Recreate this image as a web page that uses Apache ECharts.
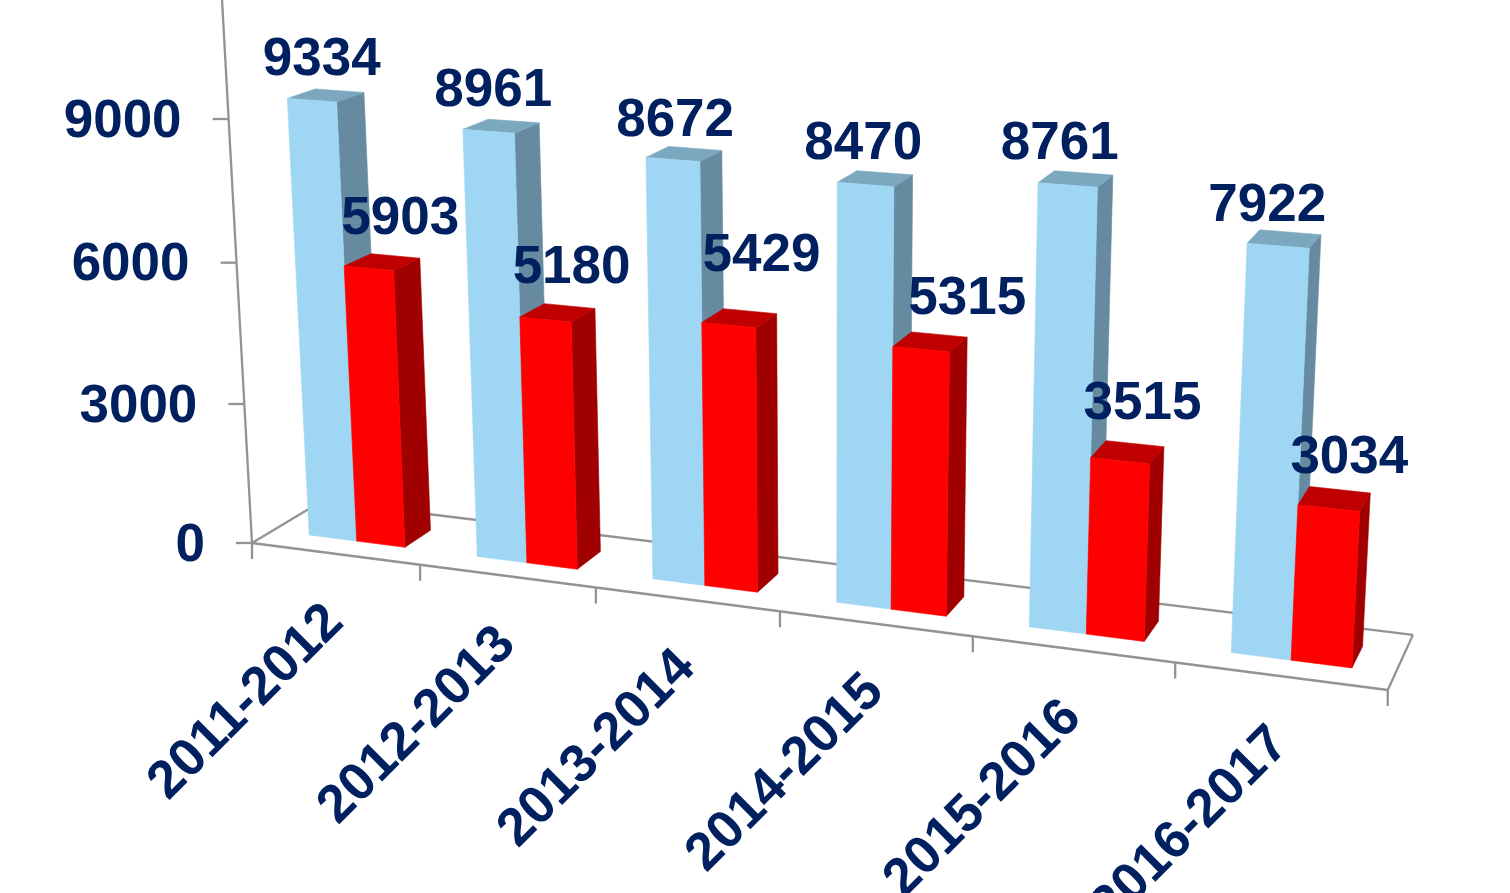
<!DOCTYPE html>
<html>
<head>
<meta charset="utf-8">
<style>html,body{margin:0;padding:0;background:#fff;overflow:hidden}#c{width:1510px;height:893px}</style>
<script src="https://cdn.jsdelivr.net/npm/echarts@6/dist/echarts.min.js"></script>
</head>
<body>
<div id="c"></div>
<script>
var categories = ['2011-2012','2012-2013','2013-2014','2014-2015','2015-2016','2016-2017'];
var lightBlueValues = [9334,8961,8672,8470,8761,7922];
var redValues = [5903,5180,5429,5315,3515,3034];
var valueTicks = [0,3000,6000,9000];

// manual label nudges, as placed in the reference
var blueLabelOffsets = [[-4,-35],[-8,-35],[-9,-33],[-12,-34],[-16,-34],[-17,-33]];
var redLabelOffsets = [[18,-43],[14,-44],[22,-62],[37,-42],[15,-48],[15,-40]];

// perspective of the chart box: maps (category u, value ratio v, depth d) to the page
var P = {x0:252,xu:158.9,xv:-29,xd:84.2,xuv:2.8,y0:543,yu:9.39,yv:-426.9,yd:-19.9,yuv:0.6,wu:-0.0219,wv:-0.0245,wd:0.0441};
var BAR = {blue:[0.222,0.509],red:[0.509,0.797],d0:0.29,d1:0.68};
var INK = '#002060', LINE = '#939393', FONT = 'bold 53px "Liberation Sans", Arial, sans-serif';

function projector(api){
  var o = api.coord([0,0]), ex = api.coord([1,0]), ey = api.coord([0,9000]);
  return function(cat,val,d){
    var g = api.coord([cat,val]);
    var u = (g[0]-o[0])/(ex[0]-o[0]), v = (g[1]-o[1])/(ey[1]-o[1]);
    var w = 1+P.wu*u+P.wv*v+P.wd*d;
    return [(P.x0+P.xu*u+P.xv*v+P.xd*d+P.xuv*u*v)/w,(P.y0+P.yu*u+P.yv*v+P.yd*d+P.yuv*u*v)/w];
  };
}
function line(a,b){
  return {type:'line',shape:{x1:a[0],y1:a[1],x2:b[0],y2:b[1]},style:{stroke:LINE,lineWidth:2.3}};
}
function label(text,x,y,align,rot){
  return {type:'text',x:x,y:y,rotation:rot||0,z2:50,
    style:{x:0,y:0,text:text,fill:INK,font:FONT,align:align,verticalAlign:'middle'}};
}
function frame(params,api){
  var p = projector(api), c = [];
  var n = categories.length;
  c.push(line(p(0,0,0),p(n,0,0)), line(p(0,0,1),p(n,0,1)), line(p(0,0,0),p(0,0,1)), line(p(n,0,0),p(n,0,1)));
  c.push(line(p(0,0,0),p(0,12000,0)));
  for(var i=0;i<=n;i++){var t=p(i,0,0);c.push(line(t,[t[0],t[1]+16]));}
  valueTicks.forEach(function(v){
    var t=p(0,v,0);
    c.push(line([t[0]-16,t[1]],t));
    c.push(label(String(v),t[0]-47,t[1]+3,'right'));
  });
  categories.forEach(function(name,i){
    var t=p(i+0.5,0,0);
    c.push(label(name,t[0],t[1]+60,'right',Math.PI/4));
  });
  return {type:'group',children:c};
}
function face(pts,fill){
  return {type:'polygon',shape:{points:pts},style:{fill:fill,stroke:fill,lineWidth:0.6}};
}
function barRenderer(span,front,top,side,offsets){
  return function(params,api){
    var p = projector(api), i = api.value(0), v = api.value(1);
    var a=i+span[0], b=i+span[1], d0=BAR.d0, d1=BAR.d1;
    var tc = p((a+b)/2,v,(d0+d1)/2);
    var off = offsets[params.dataIndex];
    return {type:'group',children:[
      face([p(b,0,d0),p(b,0,d1),p(b,v,d1),p(b,v,d0)],side),
      face([p(a,v,d0),p(b,v,d0),p(b,v,d1),p(a,v,d1)],top),
      face([p(a,0,d0),p(b,0,d0),p(b,v,d0),p(a,v,d0)],front),
      label(String(v),tc[0]+off[0],tc[1]+off[1],'center')
    ]};
  };
}
function pairs(vals){return vals.map(function(v,i){return [i,v];});}

var chart = echarts.init(document.getElementById('c'),null,{renderer:'canvas'});
chart.setOption({
  animation:false,
  backgroundColor:'#ffffff',
  grid:{left:100,right:100,top:100,bottom:100},
  xAxis:{type:'value',min:0,max:6,show:false},
  yAxis:{type:'value',min:0,max:12000,show:false},
  series:[
    {type:'custom',name:'frame',coordinateSystem:'cartesian2d',clip:false,silent:true,z:1,data:[[0,0]],renderItem:frame},
    {type:'custom',name:'light blue',coordinateSystem:'cartesian2d',clip:false,silent:true,z:2,data:pairs(lightBlueValues),
      renderItem:barRenderer(BAR.blue,'#9FD6F3','#7BA7BF','#668BA1',blueLabelOffsets)},
    {type:'custom',name:'red',coordinateSystem:'cartesian2d',clip:false,silent:true,z:3,data:pairs(redValues),
      renderItem:barRenderer(BAR.red,'#FF0000','#C00000','#A00000',redLabelOffsets)}
  ]
});
</script>
</body>
</html>
